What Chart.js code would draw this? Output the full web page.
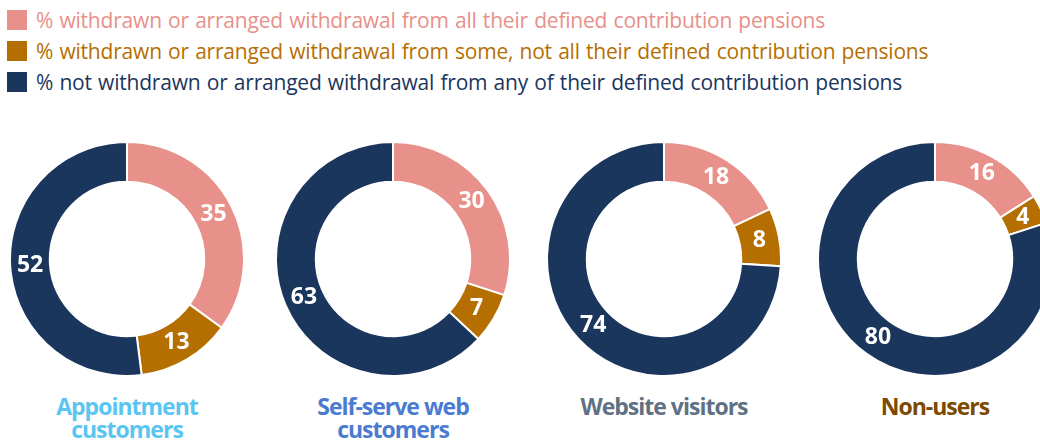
<!DOCTYPE html>
<html>
<head>
<meta charset="utf-8">
<script src="https://cdn.jsdelivr.net/npm/chart.js@4"></script>
<style>
  html,body{margin:0;padding:0;background:#fff;}
  #wrap{position:relative;width:1040px;height:441px;overflow:hidden;font-family:"Open Sans",sans-serif;}
  .leg{position:absolute;left:7px;height:20px;display:flex;align-items:center;white-space:nowrap;font-size:21px;word-spacing:1px;letter-spacing:-0.2px;}
  .leg i{display:inline-block;width:20px;height:20px;margin-right:9px;flex:none;}
  .pie{position:absolute;top:141px;width:236px;height:236px;}
  .lab{position:absolute;top:395px;width:260px;text-align:center;font-weight:700;font-size:23px;line-height:23px;letter-spacing:-1px;}
</style>
</head>
<body>
<div id="wrap"></div>
<script>
const seriesNames = [
  "% withdrawn or arranged withdrawal from all their defined contribution pensions",
  "% withdrawn or arranged withdrawal from some, not all their defined contribution pensions",
  "% not withdrawn or arranged withdrawal from any of their defined contribution pensions"
];
const seriesColors = ["#e8908a", "#b56f00", "#1b365d"];
const groups = ["Appointment customers", "Self-serve web customers", "Website visitors", "Non-users"];
const groupLines = [["Appointment","customers"], ["Self-serve web","customers"], ["Website visitors"], ["Non-users"]];
const groupColors = ["#5bc5f2", "#4a7bd0", "#5e7185", "#7b4a00"];
const allWithdrawn  = [35, 30, 18, 16];
const someWithdrawn = [13, 7, 8, 4];
const noneWithdrawn = [52, 63, 74, 80];
const centersX = [127, 393, 664, 935];

const wrap = document.getElementById("wrap");

seriesNames.forEach((n,i)=>{
  wrap.insertAdjacentHTML("beforeend",
    `<div class="leg" style="top:${10+i*31}px;color:${seriesColors[i]}"><i style="background:${seriesColors[i]}"></i>${n}</div>`);
});

// draw value labels in the middle of each ring segment
const ringLabels = {
  id: "ringLabels",
  afterDatasetsDraw(chart){
    const ctx = chart.ctx;
    const ds = chart.data.datasets[0];
    ctx.save();
    ctx.fillStyle = "#fff";
    ctx.font = "bold 23px 'Open Sans', sans-serif";
    ctx.textAlign = "center"; ctx.textBaseline = "middle";
    chart.getDatasetMeta(0).data.forEach((arc,i)=>{
      const p = arc.tooltipPosition();
      ctx.fillText(ds.data[i], p.x, p.y);
    });
    ctx.restore();
  }
};

groups.forEach((g,k)=>{
  const d = document.createElement("div");
  d.className = "pie"; d.style.left = (centersX[k]-118)+"px";
  const cv = document.createElement("canvas");
  d.appendChild(cv); wrap.appendChild(d);
  new Chart(cv, {
    type: "doughnut",
    data: {
      labels: seriesNames,
      datasets: [{
        data: [allWithdrawn[k], someWithdrawn[k], noneWithdrawn[k]],
        backgroundColor: seriesColors,
        borderColor: "#fff",
        borderWidth: 2
      }]
    },
    options: {
      responsive: true, maintainAspectRatio: false, animation: false,
      cutout: "66%",
      layout: {padding: 0},
      plugins: {legend: {display: false}, tooltip: {enabled: false}}
    },
    plugins: [ringLabels]
  });
  wrap.insertAdjacentHTML("beforeend",
    `<div class="lab" style="left:${centersX[k]-130}px;color:${groupColors[k]}">${groupLines[k].join("<br>")}</div>`);
});
</script>
</body>
</html>
